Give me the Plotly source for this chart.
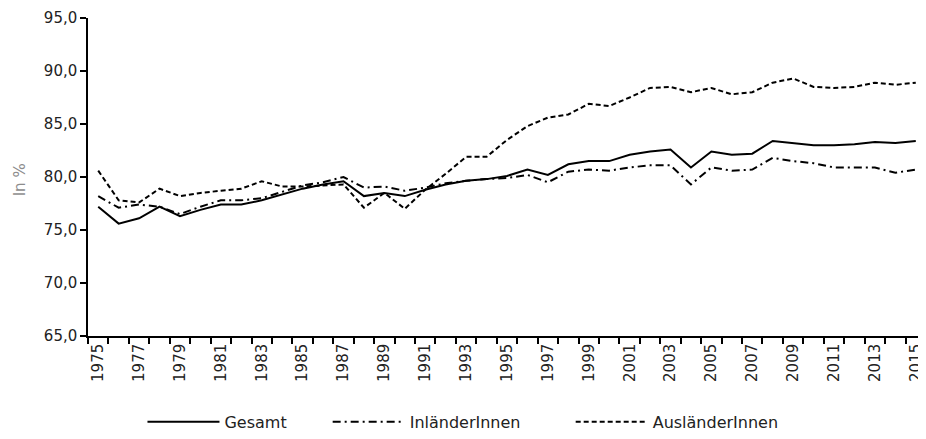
import plotly.graph_objects as go

years = list(range(1975, 2016))

gesamt = [77.2, 75.6, 76.1, 77.2, 76.3, 76.9, 77.4, 77.4, 77.8, 78.35,
          78.9, 79.3, 79.6, 78.2, 78.5, 78.2, 78.8, 79.3, 79.65, 79.8,
          80.1, 80.7, 80.2, 81.2, 81.5, 81.5, 82.1, 82.4, 82.6, 80.9,
          82.4, 82.1, 82.2, 83.4, 83.2, 83.0, 83.0, 83.1, 83.3, 83.2, 83.4]

inlaender = [78.2, 77.1, 77.4, 77.2, 76.5, 77.2, 77.8, 77.8, 78.0, 78.6,
             79.2, 79.5, 80.0, 79.0, 79.1, 78.7, 79.0, 79.4, 79.65, 79.8,
             79.9, 80.2, 79.5, 80.5, 80.7, 80.6, 80.9, 81.1, 81.1, 79.3,
             80.9, 80.6, 80.7, 81.8, 81.5, 81.3, 80.9, 80.9, 80.9, 80.4, 80.7]

auslaender = [80.6, 77.8, 77.6, 78.9, 78.2, 78.5, 78.7, 78.9, 79.6, 79.1,
              79.1, 79.2, 79.3, 77.1, 78.5, 77.0, 78.8, 80.3, 81.9, 81.9,
              83.5, 84.8, 85.6, 85.9, 86.9, 86.7, 87.5, 88.4, 88.5, 88.0,
              88.4, 87.8, 88.0, 88.9, 89.3, 88.5, 88.4, 88.5, 88.9, 88.7, 88.9]

names = ["Gesamt", "InländerInnen", "AusländerInnen"]
label_years = [y for y in years if (y - 1975) % 2 == 0]
y_ticks = [65, 70, 75, 80, 85, 90, 95]

FONT = "'DejaVu Sans', sans-serif"

fig = go.Figure()
fig.add_trace(go.Scatter(x=years, y=gesamt, name=names[0], mode="lines", legend="legend",
                         line=dict(color="black", width=2, dash="solid")))
fig.add_trace(go.Scatter(x=years, y=inlaender, name=names[1], mode="lines", legend="legend2",
                         line=dict(color="black", width=2, dash="8px,4px,2px,4px")))
fig.add_trace(go.Scatter(x=years, y=auslaender, name=names[2], mode="lines", legend="legend3",
                         line=dict(color="black", width=2, dash="5px,3px")))

def leg(x):
    return dict(orientation="h", x=x, xanchor="left", y=-0.27, yanchor="middle",
                font=dict(size=16), itemwidth=72, bgcolor="rgba(0,0,0,0)")

fig.update_layout(
    width=918, height=431,
    margin=dict(l=80, r=0, t=10, b=98),
    paper_bgcolor="white", plot_bgcolor="white",
    separators=",.",
    font=dict(family=FONT, size=15, color="#222222"),
    showlegend=True,
    legend=leg(0.065),
    legend2=leg(0.286),
    legend3=leg(0.576),
    xaxis=dict(
        range=[1974.5, 2015.5], automargin=False,
        tickmode="array", tickvals=label_years, ticktext=[str(y) for y in label_years],
        tickangle=-90, ticks="", showgrid=False, zeroline=False,
        showline=True, linecolor="black", linewidth=1.5,
        tickfont=dict(size=15),
        minor=dict(tick0=1974.5, dtick=1, ticks="outside", ticklen=6,
                   tickcolor="black", tickwidth=1.5, showgrid=False),
    ),
    yaxis=dict(
        range=[65, 95], tickmode="array", tickvals=y_ticks, automargin=False,
        tickformat=".1f", ticks="outside", ticklen=6, tickcolor="black", tickwidth=1.5,
        showgrid=False, zeroline=False, showline=True, linecolor="black", linewidth=1.5,
        tickfont=dict(size=15),
    ),
    annotations=[dict(text="In %", xref="paper", yref="paper", x=-0.081, y=0.49,
                      xanchor="center", yanchor="middle", textangle=-90, showarrow=False,
                      font=dict(size=15, color="#8c8c8c"))],
)

fig.write_html("out.html")
